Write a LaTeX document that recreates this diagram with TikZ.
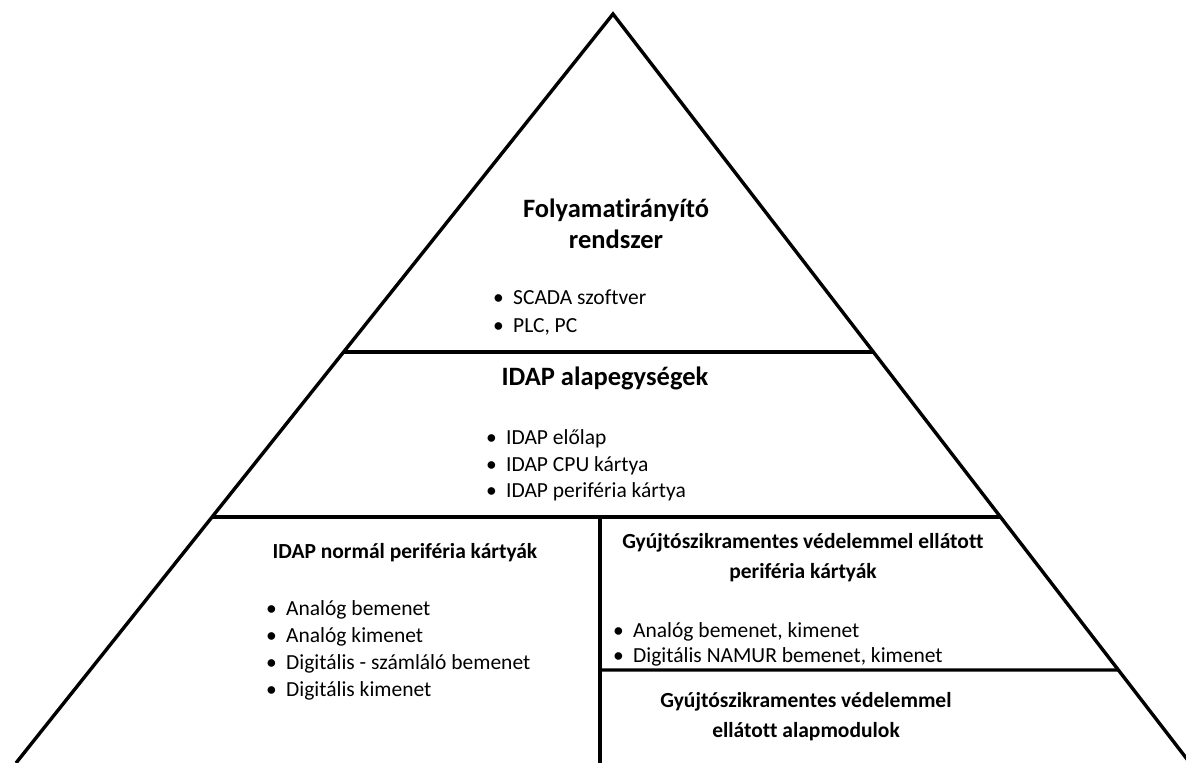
\documentclass[tikz,border=0pt]{standalone}
\usepackage{fontspec}
\setmainfont{Carlito}[Ligatures=NoCommon]
\usetikzlibrary{positioning, calc}
\tikzset{
	edge/.style    ={line width=3.4pt},
	ttl/.style     ={font=\fontsize{26.5}{31}\selectfont\bfseries, inner sep=0pt, anchor=base},
	subttl/.style  ={font=\fontsize{21.5}{26}\selectfont\bfseries, inner sep=0pt, anchor=base},
	item/.style    ={font=\fontsize{21.5}{26}\selectfont, inner sep=0pt, anchor=base west},
}
\newcommand{\blt}[1]{\makebox[20pt][l]{\textbullet}#1}

\begin{document}
\begin{tikzpicture}[x=1pt, y=-1pt]
	\useasboundingbox (0,0) rectangle (1186,763);
	% outline of the pyramid
	\coordinate (apex) at (613,14);
	\coordinate (bl) at (16,763);
	\coordinate (br) at (1190,763);
	\coordinate (l1) at ($(apex)!0.4513!(bl)$); \coordinate (r1) at ($(apex)!0.4513!(br)$);
	\coordinate (l2) at ($(apex)!0.6716!(bl)$); \coordinate (r2) at ($(apex)!0.6716!(br)$);
	\coordinate (r3) at ($(apex)!0.8758!(br)$);
	\coordinate (vtop) at (600,517); \coordinate (vbot) at (600,763);
	\coordinate (m3) at (600,670);
	\begin{scope}
		\clip (0,0) rectangle (1186,763);
		\draw[edge] (bl) -- (apex) -- (br);
		\draw[edge] (l1) -- (r1);
		\draw[edge] (l2) -- (r2);
		\draw[edge] (vtop) -- (vbot);
		\draw[edge] (m3) -- (r3);
	\end{scope}

	% top level
	\node[ttl] (fr1) at (616,217) {Folyamatirányító};
	\node[ttl] (fr2) at (616,248) {rendszer};
	\node[item] (fr3) at (493,304) {\blt{SCADA szoftver}};
	\node[item] (fr4) at (493,332) {\blt{PLC, PC}};

	% middle level
	\node[ttl] (ia1) at (605,385) {IDAP alapegységek};
	\foreach \t [count=\i] in {IDAP előlap, IDAP CPU kártya, IDAP periféria kártya}
		\node[item] (ia\i b) at (486,418+26.5*\i) {\blt{\t}};

	% lower left
	\node[subttl] (np1) at (405,558) {IDAP normál periféria kártyák};
	\foreach \t [count=\i] in {Analóg bemenet, Analóg kimenet, Digitális - számláló bemenet, Digitális kimenet}
		\node[item] (np\i b) at (266,588+27*\i) {\blt{\t}};

	% lower right
	\node[subttl] (gp1) at (803,548) {Gyújtószikramentes védelemmel ellátott};
	\node[subttl] (gp2) at (803,578) {periféria kártyák};
	\node[item] (gp3) at (613,637) {\blt{Analóg bemenet, kimenet}};
	\node[item] (gp4) at (613,662) {\blt{Digitális NAMUR bemenet, kimenet}};

	\node[subttl] (ga1) at (806,707) {Gyújtószikramentes védelemmel};
	\node[subttl] (ga2) at (806,737) {ellátott alapmodulok};
\end{tikzpicture}
\end{document}
